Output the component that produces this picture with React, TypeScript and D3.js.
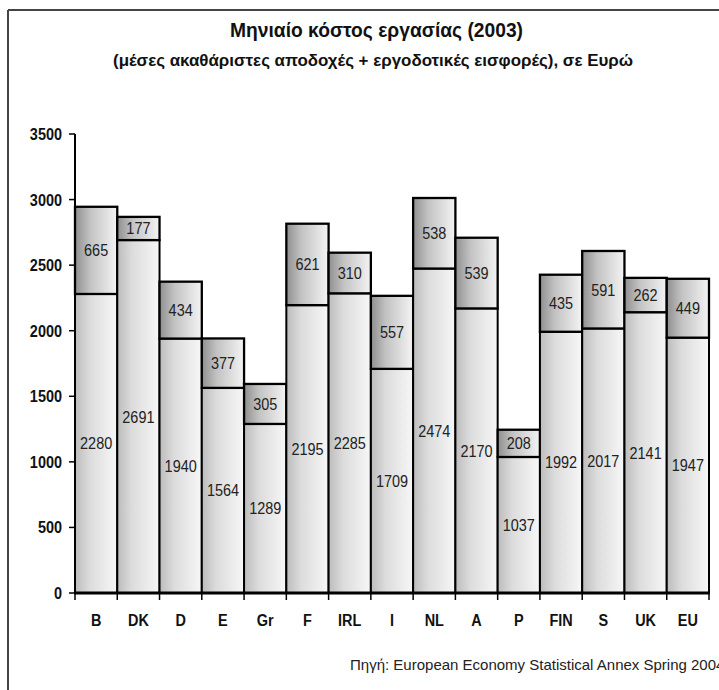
import React from 'react';
import * as d3 from 'd3';

const categories = ['B', 'DK', 'D', 'E', 'Gr', 'F', 'IRL', 'I', 'NL', 'A', 'P', 'FIN', 'S', 'UK', 'EU'];
const grossEarnings = [2280, 2691, 1940, 1564, 1289, 2195, 2285, 1709, 2474, 2170, 1037, 1992, 2017, 2141, 1947];
const employerContrib = [665, 177, 434, 377, 305, 621, 310, 557, 538, 539, 208, 435, 591, 262, 449];
const yTicks = [0, 500, 1000, 1500, 2000, 2500, 3000, 3500];
const titleText = 'Μηνιαίο κόστος εργασίας (2003)';
const subtitleText = '(μέσες ακαθάριστες αποδοχές + εργοδοτικές εισφορές), σε Ευρώ';
const sourceText = 'Πηγή: European Economy Statistical Annex Spring 2004';

const W = 719;
const H = 690;
const FONT = '"Liberation Sans", Arial, sans-serif';
const FS = 17;
const SX = 0.85;

export default function App() {
  const x = d3.scaleBand<string>().domain(categories).range([75, 709]).padding(0);
  const y = d3.scaleLinear().domain([0, 3500]).range([593, 134]);
  const bw = x.bandwidth();

  return (
    <svg width={W} height={H} style={{ position: 'absolute', left: 0, top: 0, background: '#fff' }} fontFamily={FONT}>
      <defs>
        <linearGradient id="gBottom" x1="0" x2="1" y1="0" y2="0">
          <stop offset="0" stopColor="#bcbcbc" />
          <stop offset="0.35" stopColor="#dcdcdc" />
          <stop offset="1" stopColor="#f7f7f7" />
        </linearGradient>
        <linearGradient id="gTop" x1="0" x2="1" y1="0" y2="0">
          <stop offset="0" stopColor="#8f8f8f" />
          <stop offset="0.35" stopColor="#c2c2c2" />
          <stop offset="1" stopColor="#f4f4f4" />
        </linearGradient>
      </defs>
      <rect x={0} y={0} width={W} height={H} fill="#fff" />
      {/* frame */}
      <line x1={8} x2={W} y1={10} y2={10} stroke="#444" strokeWidth={2} />
      <line x1={8} x2={8} y1={10} y2={H} stroke="#444" strokeWidth={2} />

      {/* titles */}
      <text x={230} y={37} fontSize={21} fontWeight="bold" textLength={293} lengthAdjust="spacingAndGlyphs" fill="#111">
        {titleText}
      </text>
      <text x={113} y={66} fontSize={16} fontWeight="bold" textLength={520} lengthAdjust="spacingAndGlyphs" fill="#111">
        {subtitleText}
      </text>

      {/* bars */}
      {categories.map((c, i) => {
        const g = grossEarnings[i];
        const e = employerContrib[i];
        const x0 = x(c) as number;
        return (
          <g key={c}>
            <rect x={x0} y={y(g)} width={bw} height={y(0) - y(g)} fill="url(#gBottom)" stroke="#000" strokeWidth={2} />
            <rect x={x0} y={y(g + e)} width={bw} height={y(g) - y(g + e)} fill="url(#gTop)" stroke="#000" strokeWidth={2.3} />
          </g>
        );
      })}
      {categories.map((c, i) => {
        const g = grossEarnings[i];
        const e = employerContrib[i];
        const cx = (x(c) as number) + bw / 2;
        return (
          <g key={'l' + c} fontSize={FS} fill="#222" textAnchor="middle">
            <text transform={`translate(${cx},${y(g / 2) + 6}) scale(${SX},1)`}>{g}</text>
            <text transform={`translate(${cx},${y(g + e / 2) + 6}) scale(${SX},1)`}>{e}</text>
          </g>
        );
      })}

      {/* y axis */}
      <line x1={75} x2={75} y1={y(3500)} y2={y(0)} stroke="#000" strokeWidth={2} />
      {yTicks.map((t) => (
        <g key={'y' + t}>
          <line x1={69} x2={75} y1={y(t)} y2={y(t)} stroke="#000" strokeWidth={1.5} />
          <text
            transform={`translate(62,${y(t) + 6}) scale(${SX},1)`}
            textAnchor="end"
            fontSize={FS}
            fontWeight="bold"
            fill="#111"
          >
            {t}
          </text>
        </g>
      ))}

      {/* x axis */}
      <line x1={74} x2={710} y1={y(0)} y2={y(0)} stroke="#000" strokeWidth={3} />
      {[...categories.map((c) => x(c) as number), 709].map((px, i) => (
        <line key={'xt' + i} x1={px} x2={px} y1={y(0)} y2={y(0) + 7} stroke="#000" strokeWidth={1.5} />
      ))}
      {categories.map((c) => (
        <text
          key={'xl' + c}
          transform={`translate(${(x(c) as number) + bw / 2},626) scale(${SX},1)`}
          textAnchor="middle"
          fontSize={FS}
          fontWeight="bold"
          fill="#111"
        >
          {c}
        </text>
      ))}

      {/* source */}
      <text x={350} y={670} fontSize={15} fill="#222">
        {sourceText}
      </text>
    </svg>
  );
}
